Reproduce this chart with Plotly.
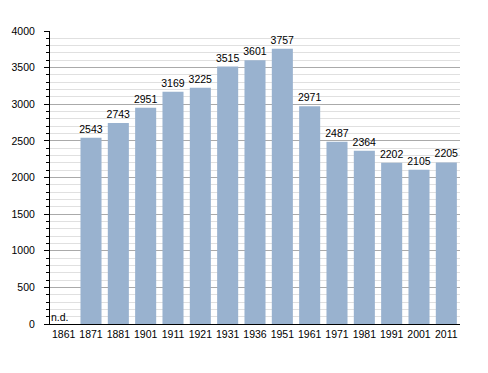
import plotly.graph_objects as go

years = ["1861", "1871", "1881", "1901", "1911", "1921", "1931", "1936",
         "1951", "1961", "1971", "1981", "1991", "2001", "2011"]
population = [0, 2543, 2743, 2951, 3169, 3225, 3515, 3601,
              3757, 2971, 2487, 2364, 2202, 2105, 2205]
labels = ["" if v == 0 else str(v) for v in population]
missing_label = "n.d."

fig = go.Figure()
fig.add_trace(go.Bar(
    x=years, y=population, text=labels, textposition="outside",
    textfont=dict(color="black", size=10.5), constraintext="none",
    marker=dict(color="#99b2cf", line=dict(width=0)),
    cliponaxis=False,
))
fig.add_annotation(x=years.index("1861"), y=0, text=missing_label, showarrow=False,
                   yanchor="bottom", xanchor="center", xshift=-4, yshift=-1,
                   font=dict(size=10.5, color="black"))

# page body has an 8px default margin, so the figure is offset by 8px
fig.update_layout(
    width=480, height=365,
    margin=dict(l=42, r=28, t=23, b=49),
    paper_bgcolor="white", plot_bgcolor="white",
    font=dict(family="Liberation Sans, Arial, sans-serif", size=10.5, color="black"),
    showlegend=False, bargap=0.23,
)
fig.update_yaxes(
    range=[0, 4000], dtick=500, showgrid=True, gridcolor="#aaaaaa", gridwidth=1,
    ticks="outside", ticklen=5, tickcolor="black", showline=True,
    linecolor="black", linewidth=1, zeroline=False, automargin=False,
    ticklabelstandoff=7,
    minor=dict(dtick=100, showgrid=True, gridcolor="#e0e0e0", ticks="outside",
               ticklen=3, tickcolor="black"),
    fixedrange=True,
)
fig.update_xaxes(
    type="category", categoryorder="array", categoryarray=years,
    range=[-0.5, len(years) - 0.5], automargin=False,
    showline=True, linecolor="black", linewidth=1,
    ticks="", showgrid=False, fixedrange=True,
)
fig.write_html("out.html")
